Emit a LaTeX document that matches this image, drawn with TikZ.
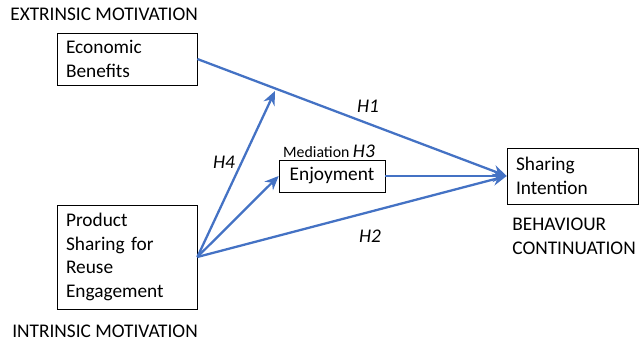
\documentclass[tikz,border=0pt]{standalone}
\usepackage{fontspec}
\setmainfont{Carlito}
\usetikzlibrary{arrows.meta}
\definecolor{linkblue}{HTML}{4472C4}
\tikzset{
  box/.style={draw,thin,inner xsep=0.18cm,inner ysep=0pt,align=left,font=\fontsize{11}{13.6}\selectfont},
  lbl/.style={inner sep=0pt,align=left,font=\fontsize{11}{13.6}\selectfont},
  hyp/.style={inner sep=0pt,font=\fontsize{11}{13.6}\selectfont\itshape},
  link/.style={linkblue,line width=1.3pt,-{Stealth[length=2.8mm,width=2.4mm]}}
}
\begin{document}
\begin{tikzpicture}[x=0.02cm,y=-0.02cm]
      \useasboundingbox (0,0) rectangle (639,340);
      \node[box,text width=2.44cm,minimum height=1.04cm] (eco) at (127,59) {Economic\\Benefits}; %extrinsic
      \node[box,text width=2.44cm,minimum height=2.08cm] (prod) at (127,257) {Product\\Sharing for\\Reuse\\Engagement}; %intrinsic
      \node[box,align=center,minimum width=2.12cm,minimum height=0.64cm] (enj) at (332,176) {Enjoyment};
      \node[box,text width=2.26cm,minimum height=1.12cm] (share) at (572.5,176) {Sharing\\Intention};
      \node[lbl,anchor=west] (extr) at (10,14) {EXTRINSIC MOTIVATION};
      \node[lbl,anchor=west] (intr) at (12,331) {INTRINSIC MOTIVATION};
      \node[lbl,anchor=west] (behav) at (512,236) {BEHAVIOUR\\CONTINUATION};
      \coordinate (h4tip) at (275,91);
      \draw[link] (eco.east)--(share.west);
      \draw[link] (prod.east)--(share.west);
      \draw[link] (prod.east)--(enj.west);
      \draw[link] (prod.east)--(h4tip);
      \draw[link] (enj.east)--(share.west);
      \node[hyp] (h1) at (368,106) {H1};
      \node[hyp] (h2) at (370,236) {H2};
      \node[hyp] (h4) at (224,162) {H4};
      \node[inner sep=0pt] (h3) at (329,151) {\fontsize{9}{11}\selectfont Mediation \fontsize{11}{13.6}\selectfont\itshape H3};
    \end{tikzpicture}
\end{document}
